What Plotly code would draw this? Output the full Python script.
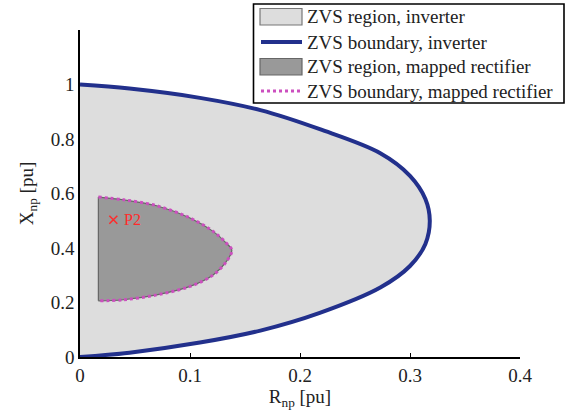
import plotly.graph_objects as go

# ZVS boundary, inverter (R_np, X_np), from (0,1) round to (0,0)
inv_r = [0.0, 0.045, 0.109, 0.164, 0.218, 0.273, 0.300, 0.314, 0.318,
         0.314, 0.300, 0.273, 0.218, 0.164, 0.109, 0.045, 0.0]
inv_x = [1.0, 0.985, 0.951, 0.906, 0.836, 0.748, 0.665, 0.580, 0.500,
         0.415, 0.334, 0.255, 0.162, 0.097, 0.053, 0.016, 0.0]

# ZVS boundary, mapped rectifier
rec_r = [0.0167, 0.0394, 0.0697, 0.100, 0.121, 0.133, 0.138,
         0.133, 0.121, 0.100, 0.0697, 0.0394, 0.0167]
rec_x = [0.587, 0.577, 0.555, 0.510, 0.461, 0.418, 0.392,
         0.350, 0.301, 0.259, 0.228, 0.210, 0.206]

# Operating point
p2_r = [0.0303]
p2_x = [0.504]
p2_label = ["P2"]

x_ticks = [0, 0.1, 0.2, 0.3, 0.4]
x_ticktext = ["0", "0.1", "0.2", "0.3", "0.4"]
y_ticks = [0, 0.2, 0.4, 0.6, 0.8, 1.0]
y_ticktext = ["0", "0.2", "0.4", "0.6", "0.8", "1"]

legend_labels = ["ZVS region, inverter", "ZVS boundary, inverter",
                 "ZVS region, mapped rectifier", "ZVS boundary, mapped rectifier"]

FONT = "Liberation Serif"
TXT = "#222222"
BLUE = "#22308c"
PINK = "#cc4fbf"
LIGHT = "#dddddd"
DARK = "#999999"
RED = "#ff2a2a"

W, H = 574, 417
ML, MT = 80, 30
PW, PH = 440, 327
MR, MB = W - ML - PW, H - MT - PH


def px(xs):
    return (xs - ML) / PW


def py(ys):
    return (MT + PH - ys) / PH


fig = go.Figure()

fig.add_trace(go.Scatter(
    x=inv_r, y=inv_x, mode="lines", line=dict(color="#7a7a7a", width=1.2, shape="spline"),
    fill="toself", fillcolor=LIGHT, name=legend_labels[0], showlegend=False))
fig.add_trace(go.Scatter(
    x=inv_r, y=inv_x, mode="lines", line=dict(color=BLUE, width=4, shape="spline"),
    name=legend_labels[1], showlegend=False))
fig.add_trace(go.Scatter(
    x=rec_r, y=rec_x, mode="lines", line=dict(color="#666666", width=1.2, shape="spline"),
    fill="toself", fillcolor=DARK, name=legend_labels[2], showlegend=False))
fig.add_trace(go.Scatter(
    x=[rec_r[0], rec_r[-1]], y=[rec_x[0], rec_x[-1]], mode="lines",
    line=dict(color="#666666", width=1.2), showlegend=False, hoverinfo="skip"))
fig.add_trace(go.Scatter(
    x=rec_r, y=rec_x, mode="lines", line=dict(color=PINK, width=3, shape="spline", dash="dot"),
    name=legend_labels[3], showlegend=False))
fig.add_trace(go.Scatter(
    x=p2_r, y=p2_x, mode="markers",
    marker=dict(symbol="x-thin-open", size=8, color=RED, line=dict(color=RED, width=1.5)),
    showlegend=False))

# Hand-drawn legend box (MATLAB style)
shapes = [
    dict(type="rect", xref="paper", yref="paper", x0=px(253.5), x1=px(564), y0=py(103), y1=py(4),
         line=dict(color="black", width=1.6), fillcolor="white", layer="above"),
    dict(type="rect", xref="paper", yref="paper", x0=px(260), x1=px(302), y0=py(25), y1=py(8.5),
         line=dict(color="#777777", width=1.2), fillcolor=LIGHT, layer="above"),
    dict(type="line", xref="paper", yref="paper", x0=px(261), x1=px(302), y0=py(42), y1=py(42),
         line=dict(color=BLUE, width=4), layer="above"),
    dict(type="rect", xref="paper", yref="paper", x0=px(260), x1=px(302), y0=py(75), y1=py(58.5),
         line=dict(color="#666666", width=1.2), fillcolor=DARK, layer="above"),
    dict(type="line", xref="paper", yref="paper", x0=px(261), x1=px(302), y0=py(91), y1=py(91),
         line=dict(color=PINK, width=3, dash="dot"), layer="above"),
]
row_y = [16.5, 42, 66.5, 91]
annotations = [
    dict(xref="paper", yref="paper", x=px(305), y=py(ry), text=lab, showarrow=False,
         xanchor="left", yanchor="middle", font=dict(family=FONT, size=19, color=TXT))
    for lab, ry in zip(legend_labels, row_y)
]
annotations.append(dict(x=p2_r[0], y=p2_x[0], xref="x", yref="y", text=p2_label[0],
                        showarrow=False, xanchor="left", yanchor="middle", xshift=9,
                        font=dict(family=FONT, size=16, color=RED)))

fig.update_layout(
    width=W, height=H,
    margin=dict(l=ML, r=MR, t=MT, b=MB, autoexpand=False),
    plot_bgcolor="white", paper_bgcolor="white",
    font=dict(family=FONT, size=19, color="black"),
    showlegend=False,
    shapes=shapes, annotations=annotations,
)
fig.update_xaxes(range=[0, 0.4], tickvals=x_ticks, ticktext=x_ticktext, automargin=False,
                 showgrid=False, zeroline=False, showline=True, linecolor="black", linewidth=1.5,
                 ticks="inside", ticklen=4, tickcolor="black", tickwidth=1.2,
                 tickfont=dict(family=FONT, size=19, color=TXT),
                 title=dict(text="R<sub>np</sub> [pu]", font=dict(family=FONT, size=19, color=TXT), standoff=2))
fig.update_yaxes(range=[0, 1.2], tickvals=y_ticks, ticktext=y_ticktext, automargin=False,
                 showgrid=False, zeroline=False, showline=True, linecolor="black", linewidth=1.5,
                 ticks="", tickfont=dict(family=FONT, size=19, color=TXT),
                 title=dict(text="X<sub>np</sub> [pu]", font=dict(family=FONT, size=19, color=TXT), standoff=12))

fig.write_html(
    "out.html",
    config={"displayModeBar": False},
    post_script=("document.body.style.margin='0';"
                 "document.body.style.overflow='hidden';"
                 "document.documentElement.style.overflow='hidden';"),
)
